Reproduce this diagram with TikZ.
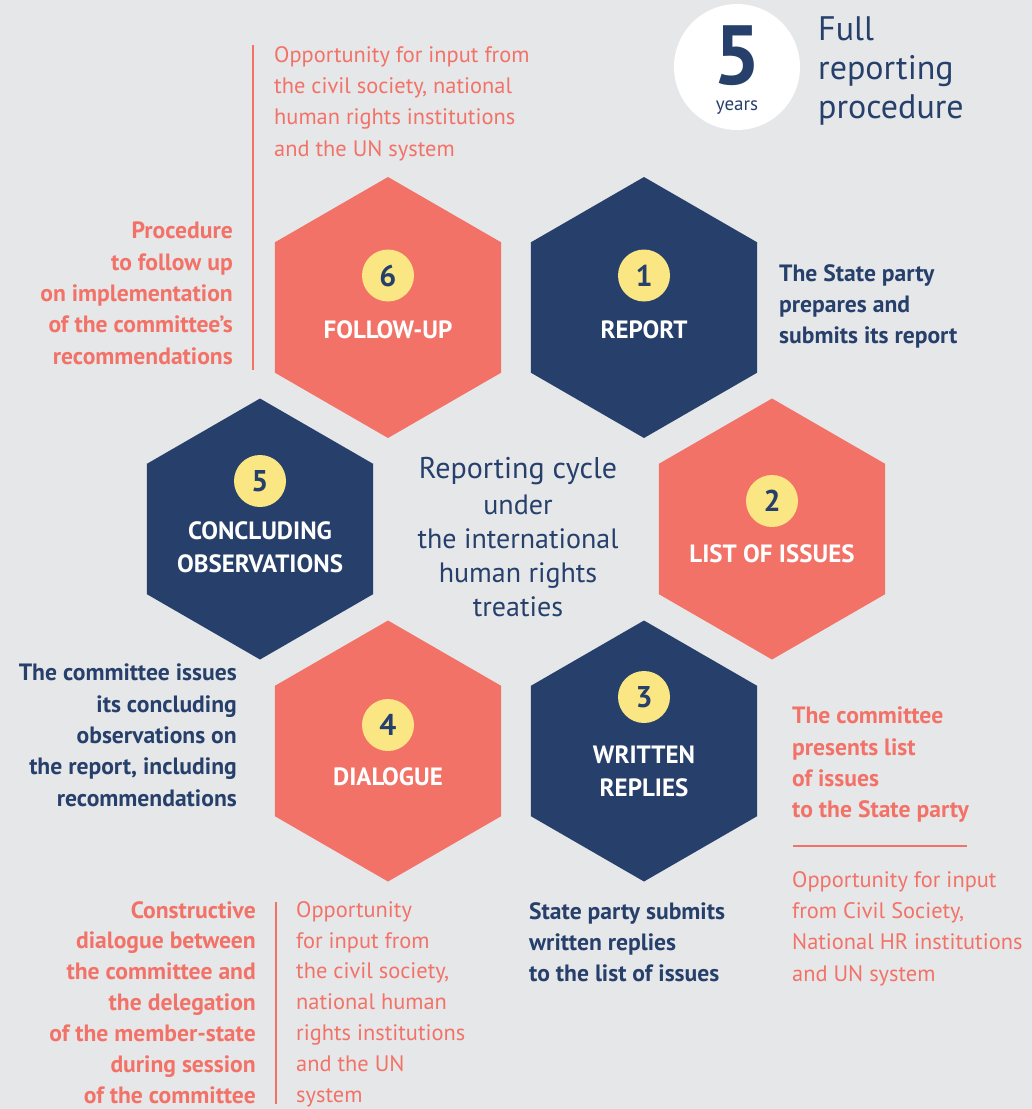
\documentclass[tikz,border=0pt]{standalone}
\usepackage{fontspec}
\setmainfont{PT Sans}
\usetikzlibrary{shapes.geometric}
\usetikzlibrary{positioning}

\definecolor{navy}{HTML}{26406B}
\definecolor{salmon}{HTML}{F37268}
\definecolor{badgeyellow}{HTML}{FAE683}
\definecolor{paper}{HTML}{E6E7E9}

\newcommand{\notefont}{\fontsize{23.6}{31.3}\selectfont}
\newcommand{\inputfont}{\fontsize{22.4}{31.3}\selectfont}

\begin{document}
\begin{tikzpicture} [x=1pt,y=-1pt,
		hex/.style={regular polygon,regular polygon sides=6,rotate=30,minimum size=261pt,inner sep=0pt,outer sep=0pt},
		hexnavy/.style={hex,fill=navy},
		hexsalmon/.style={hex,fill=salmon},
		badge/.style={circle,fill=badgeyellow,minimum size=52pt,inner sep=0pt,text=navy,font=\fontsize{30}{30}\selectfont\bfseries},
		hexlabel/.style={text=white,align=center,inner sep=0pt,font=\fontsize{25}{33}\selectfont\bfseries},
		boldnote/.style={inner sep=0pt,font=\notefont\bfseries},
		plainnote/.style={inner sep=0pt,font=\inputfont,text=salmon},
		rule/.style={draw=salmon,line width=2.5pt}]
		
		% background
		\fill[paper] (0,0) rectangle (1032,1109);
		\useasboundingbox (0,0) rectangle (1032,1109);
		
		% Hexagons
		\node[hexnavy] (report) at (644,307.5) {};	%1
		\node[hexsalmon] (issues) at (772,529) {};	%2
		\node[hexnavy] (replies) at (644,751) {};	%3
		\node[hexsalmon] (dialogue) at (388,751) {};	%4
		\node[hexnavy] (concl) at (260,529) {};		%5
		\node[hexsalmon] (follow) at (388,307.5) {};	%6
		
		% Numbers
		\path (report) ++(0,-32) node[badge] (n1) {1};
		\path (issues) ++(0,-28) node[badge] (n2) {2};
		\path (replies) ++(0,-54) node[badge] (n3) {3};
		\path (dialogue) ++(0,-26) node[badge] (n4) {4};
		\path (concl) ++(0,-48) node[badge] (n5) {5};
		\path (follow) ++(0,-32) node[badge] (n6) {6};
		
		% Labels for hexagons
		\path (report) ++(0,22) node[hexlabel] (l1) {REPORT};
		\path (issues) ++(0,25) node[hexlabel] (l2) {LIST OF ISSUES};
		\path (replies) ++(0,20) node[hexlabel] (l3) {WRITTEN\\REPLIES};
		\path (dialogue) ++(0,26) node[hexlabel] (l4) {DIALOGUE};
		\path (concl) ++(0,18) node[hexlabel] (l5) {CONCLUDING\\OBSERVATIONS};
		\path (follow) ++(0,22) node[hexlabel] (l6) {FOLLOW-UP};
		
		% centre text
		\node[inner sep=0pt,text=navy,font=\fontsize{30}{34}\selectfont] (cycle) at (518,471) {Reporting cycle};
		\node[below=10pt of cycle,inner sep=0pt,align=center,text=navy,font=\fontsize{28}{34}\selectfont] (treaty) {under\\the international\\human rights\\treaties};
		
		% 5 years
		\node[circle,fill=white,minimum size=126pt,inner sep=0pt] (years) at (737,67) {};
		\path (years) ++(0,3) node[text=navy,inner sep=0pt,align=center,font=\fontsize{19}{26}\selectfont] (five) {{\fontsize{84}{84}\selectfont\bfseries 5}\\years};
		\node[anchor=north west,inner sep=0pt,align=left,text=navy,font=\fontsize{34}{39}\selectfont] (fullproc) at (818,16) {Full\\reporting\\procedure};
		
		% notes round the cycle
		\node[plainnote,anchor=north west,align=left] (inputtop) at (274,46) {Opportunity for input from\\the civil society, national\\human rights institutions\\and the UN system};
		\node[boldnote,text=salmon,anchor=north east,align=right] (followtxt) at (233,222) {Procedure\\to follow up\\on implementation\\of the committee's\\recommendations};
		\node[boldnote,text=navy,anchor=north west,align=left] (reporttxt) at (779,264) {The State party\\prepares and\\submits its report};
		\node[boldnote,text=navy,anchor=north east,align=right] (concltxt) at (237,664) {The committee issues\\its concluding\\observations on\\the report, including\\recommendations};
		\node[boldnote,text=salmon,anchor=north west,align=left] (issuestxt) at (792,707) {The committee\\presents list\\of issues\\to the State party};
		\node[plainnote,anchor=north west,align=left] (inputright) at (792,871) {Opportunity for input\\from Civil Society,\\National HR institutions\\and UN system};
		\node[boldnote,text=navy,anchor=north west,align=left] (repliestxt) at (529,902) {State party submits\\written replies\\to the list of issues};
		\node[boldnote,text=salmon,anchor=north east,align=right,font=\fontsize{23.6}{30.9}\selectfont\bfseries] (dialoguetxt) at (256,901) {Constructive\\dialogue between\\the committee and\\the delegation\\of the member-state\\during session\\of the committee};
		\node[plainnote,anchor=north west,align=left,font=\fontsize{22.4}{30.9}\selectfont] (inputbottom) at (296,901) {Opportunity\\for input from\\the civil society,\\national human\\rights institutions\\and the UN\\system};
		
		% separators
		\coordinate (sepA) at (253,45);
		\coordinate (sepB) at (253,370);
		\coordinate (sepC) at (793,846);
		\coordinate (sepD) at (967,846);
		\coordinate (sepE) at (276,902);
		\coordinate (sepF) at (276,1104);
		\draw[rule] (sepA) -- (sepB);
		\draw[rule] (sepC) -- (sepD);
		\draw[rule] (sepE) -- (sepF);
\end{tikzpicture}
\end{document}
